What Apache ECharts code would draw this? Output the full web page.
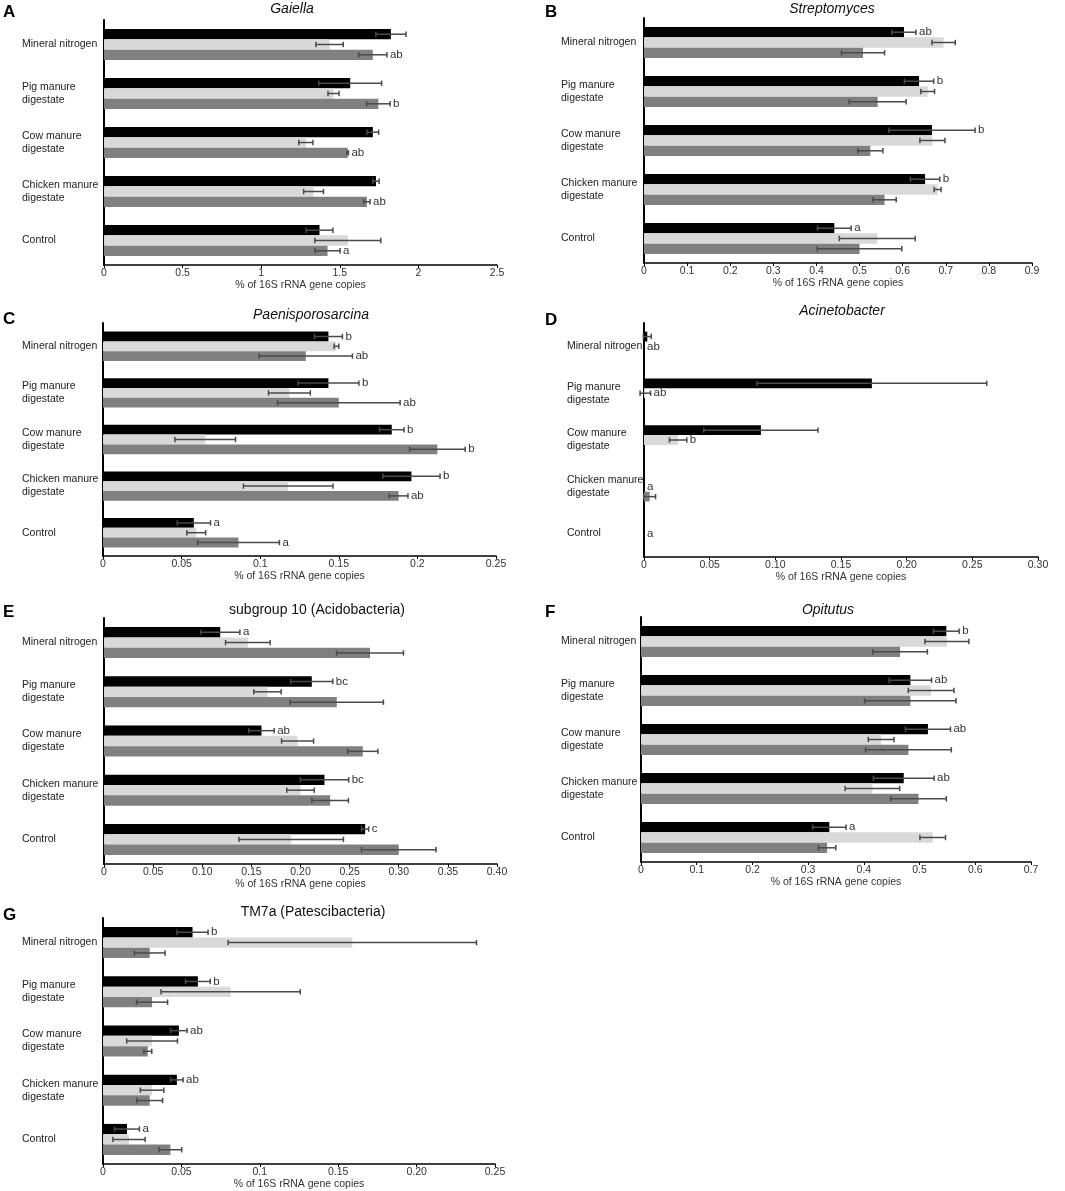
<!DOCTYPE html>
<html>
<head>
<meta charset="utf-8">
<title>Genus abundance by fertiliser</title>
<script src="https://cdn.jsdelivr.net/npm/echarts@6/dist/echarts.min.js"></script>
<style>
  html, body { margin: 0; padding: 0; background: #fff; }
  #chart { width: 1065px; height: 1191px; }
</style>
</head>
<body>
<div id="chart"></div>
<script>
var categories = ['Mineral nitrogen', 'Pig manure\ndigestate', 'Cow manure\ndigestate', 'Chicken manure\ndigestate', 'Control'];
var barColors = ['#000000', '#d9d9d9', '#808080'];
var axisTitle = '% of 16S rRNA gene copies';

// every panel: rows are black, light grey, dark grey bars; columns follow categories
// A - Gaiella
var gaiellaMean = [
    [1.825, 1.566, 1.71, 1.73, 1.371],
    [1.435, 1.46, 1.284, 1.333, 1.551],
    [1.71, 1.745, 1.55, 1.672, 1.422]
];
var gaiellaErr = [
    [0.096, 0.2, 0.037, 0.02, 0.085],
    [0.087, 0.035, 0.045, 0.063, 0.21],
    [0.09, 0.075, 0.005, 0.02, 0.08]
];
var gaiellaLetters = [null, null, ['ab', 'b', 'ab', 'ab', 'a']];
var gaiellaTicks = ['0', '0.5', '1', '1.5', '2', '2.5'];

// B - Streptomyces
var streptoMean = [
    [0.603, 0.638, 0.668, 0.652, 0.4415],
    [0.695, 0.658, 0.669, 0.681, 0.541],
    [0.508, 0.542, 0.525, 0.558, 0.5]
];
var streptoErr = [
    [0.028, 0.034, 0.1, 0.034, 0.039],
    [0.027, 0.016, 0.029, 0.008, 0.088],
    [0.05, 0.066, 0.029, 0.027, 0.098]
];
var streptoLetters = [['ab', 'b', 'b', 'b', 'a'], null, null];
var streptoTicks = ['0', '0.1', '0.2', '0.3', '0.4', '0.5', '0.6', '0.7', '0.8', '0.9'];

// C - Paenisporosarcina
var paeniMean = [
    [0.1434, 0.1434, 0.1837, 0.1962, 0.0578],
    [0.1485, 0.1186, 0.065, 0.1178, 0.0593],
    [0.129, 0.150, 0.2127, 0.188, 0.0862]
];
var paeniErr = [
    [0.0089, 0.0194, 0.0078, 0.0182, 0.0106],
    [0.0015, 0.0133, 0.0193, 0.0285, 0.006],
    [0.0297, 0.039, 0.0177, 0.006, 0.026]
];
var paeniLetters = [['b', 'b', 'b', 'b', 'a'], null, ['ab', 'ab', 'b', 'ab', 'a']];
var paeniTicks = ['0', '0.05', '0.1', '0.15', '0.2', '0.25'];

// D - Acinetobacter
var acinetoMean = [
    [0.0025, 0.1735, 0.089, 0, 0],
    [0, 0.001, 0.026, 0, 0],
    [0, 0, 0, 0.0043, 0]
];
var acinetoErr = [
    [0.003, 0.0875, 0.0435, 0, 0],
    [0, 0.004, 0.0066, 0, 0],
    [0, 0, 0, 0.0045, 0]
];
var acinetoLetters = [null, ['ab', 'ab', 'b', 'a', 'a'], null];
var acinetoTicks = ['0', '0.05', '0.10', '0.15', '0.20', '0.25', '0.30'];

// E - subgroup 10 (Acidobacteria)
var sub10Mean = [
    [0.1183, 0.2115, 0.1603, 0.2244, 0.2658],
    [0.1464, 0.1664, 0.197, 0.2, 0.1905],
    [0.2708, 0.2369, 0.2634, 0.2302, 0.300]
];
var sub10Err = [
    [0.02, 0.0214, 0.0129, 0.0246, 0.0036],
    [0.0227, 0.0139, 0.0163, 0.014, 0.0532],
    [0.034, 0.0475, 0.0154, 0.0186, 0.038]
];
var sub10Letters = [['a', 'bc', 'ab', 'bc', 'c'], null, null];
var sub10Ticks = ['0', '0.05', '0.10', '0.15', '0.20', '0.25', '0.30', '0.35', '0.40'];

// F - Opitutus
var opitutusMean = [
    [0.548, 0.4835, 0.515, 0.4716, 0.338],
    [0.549, 0.5207, 0.431, 0.4153, 0.5236],
    [0.465, 0.4835, 0.48, 0.498, 0.334]
];
var opitutusErr = [
    [0.023, 0.038, 0.0404, 0.0545, 0.03],
    [0.0395, 0.041, 0.023, 0.049, 0.023],
    [0.049, 0.082, 0.077, 0.05, 0.0156]
];
var opitutusLetters = [['b', 'ab', 'ab', 'ab', 'a'], null, null];
var opitutusTicks = ['0', '0.1', '0.2', '0.3', '0.4', '0.5', '0.6', '0.7'];

// G - TM7a (Patescibacteria)
var tm7aMean = [
    [0.0571, 0.0605, 0.0484, 0.0471, 0.0153],
    [0.159, 0.0814, 0.0313, 0.0313, 0.0166],
    [0.0298, 0.0313, 0.0286, 0.0298, 0.043]
];
var tm7aErr = [
    [0.0099, 0.0079, 0.0052, 0.004, 0.0079],
    [0.0792, 0.0444, 0.0162, 0.0075, 0.0103],
    [0.0098, 0.0099, 0.0025, 0.0082, 0.0072]
];
var tm7aLetters = [['b', 'b', 'ab', 'ab', 'a'], null, null];
var tm7aTicks = ['0', '0.05', '0.1', '0.15', '0.20', '0.25'];

var FONT = '"Liberation Sans", Arial, Helvetica, sans-serif';
var BAR_FRAC = 0.21;   // bar thickness as part of the category band

var panels = [
    {tag: 'A', title: 'Gaiella', italic: true, mean: gaiellaMean, err: gaiellaErr, letters: gaiellaLetters, ticks: gaiellaTicks, step: 0.5,
        left: 104, top: 20, width: 393, height: 245, margin: 82, titleX: 292, titleY: 9, tagX: 3, tagY: 12},
    {tag: 'B', title: 'Streptomyces', italic: true, mean: streptoMean, err: streptoErr, letters: streptoLetters, ticks: streptoTicks, step: 0.1,
        left: 644, top: 18, width: 388, height: 245, margin: 83, titleX: 832, titleY: 9, tagX: 545, tagY: 12},
    {tag: 'C', title: 'Paenisporosarcina', italic: true, mean: paeniMean, err: paeniErr, letters: paeniLetters, ticks: paeniTicks, step: 0.05,
        left: 103, top: 323, width: 393, height: 233, margin: 81, titleX: 311, titleY: 315, tagX: 3, tagY: 319},
    {tag: 'D', title: 'Acinetobacter', italic: true, mean: acinetoMean, err: acinetoErr, letters: acinetoLetters, ticks: acinetoTicks, step: 0.05,
        left: 644, top: 323, width: 394, height: 234, margin: 77, titleX: 842, titleY: 311, tagX: 545, tagY: 320},
    {tag: 'E', title: 'subgroup 10 (Acidobacteria)', italic: false, mean: sub10Mean, err: sub10Err, letters: sub10Letters, ticks: sub10Ticks, step: 0.05,
        left: 104, top: 618, width: 393, height: 246, margin: 82, titleX: 317, titleY: 610, tagX: 3, tagY: 612},
    {tag: 'F', title: 'Opitutus', italic: true, mean: opitutusMean, err: opitutusErr, letters: opitutusLetters, ticks: opitutusTicks, step: 0.1,
        left: 641, top: 617, width: 390, height: 245, margin: 80, titleX: 828, titleY: 610, tagX: 545, tagY: 612},
    {tag: 'G', title: 'TM7a (Patescibacteria)', italic: false, mean: tm7aMean, err: tm7aErr, letters: tm7aLetters, ticks: tm7aTicks, step: 0.05,
        left: 103, top: 918, width: 392, height: 246, margin: 81, titleX: 313, titleY: 912, tagX: 3, tagY: 915}
];

// error whiskers + significance letters drawn over bar series k of panel p
function errorSeries(p, pi, k) {
    return {
        type: 'custom',
        xAxisIndex: pi,
        yAxisIndex: pi,
        z: 5,
        silent: true,
        clip: false,
        data: p.mean[k].map(function (v, i) { return [v, i, p.err[k][i]]; }),
        encode: {x: 0, y: 1},
        renderItem: function (params, api) {
            var v = api.value(0), cat = api.value(1), e = api.value(2);
            var band = api.size([0, 1])[1];
            var y = api.coord([v, cat])[1] + (k - 1) * band * BAR_FRAC;
            var x0 = api.coord([0, cat])[0];
            var lo = api.coord([v - e, cat])[0];
            var hi = api.coord([v + e, cat])[0];
            var lineStyle = {stroke: '#4a4a4a', lineWidth: 1.5};
            var kids = [];
            if (e > 0) {
                kids.push({type: 'line', shape: {x1: lo, y1: y, x2: hi, y2: y}, style: lineStyle});
                kids.push({type: 'line', shape: {x1: lo, y1: y - 2.7, x2: lo, y2: y + 2.7}, style: lineStyle});
                kids.push({type: 'line', shape: {x1: hi, y1: y - 2.7, x2: hi, y2: y + 2.7}, style: lineStyle});
            }
            var letter = p.letters[k] ? p.letters[k][params.dataIndex] : null;
            if (letter) {
                kids.push({
                    type: 'text',
                    style: {
                        text: letter, x: Math.max(hi, x0) + 3, y: y,
                        textAlign: 'left', textVerticalAlign: 'middle', align: 'left', verticalAlign: 'middle',
                        fill: '#333', font: '11.5px ' + FONT
                    }
                });
            }
            return {type: 'group', children: kids};
        }
    };
}

var grids = [], xAxes = [], yAxes = [], series = [], graphics = [];

panels.forEach(function (p, pi) {
    grids.push({left: p.left, top: p.top, width: p.width, height: p.height, containLabel: false, outerBoundsMode: 'none'});
    xAxes.push({
        type: 'value',
        gridIndex: pi,
        min: 0,
        max: p.step * (p.ticks.length - 1),
        interval: p.step,
        name: axisTitle,
        nameLocation: 'middle',
        nameGap: 14,
        nameTextStyle: {color: '#333', fontSize: 10.5, fontFamily: FONT},
        axisLine: {show: true, onZero: false, lineStyle: {color: '#000', width: 1.6}},
        axisTick: {show: true, length: 3, lineStyle: {color: '#000', width: 1}},
        splitLine: {show: false},
        axisLabel: {
            color: '#333', fontSize: 10.5, fontFamily: FONT, margin: 3,
            showMinLabel: true, showMaxLabel: true, hideOverlap: false,
            formatter: (function (ticks, step) {
                return function (val) { return ticks[Math.round(val / step)]; };
            })(p.ticks, p.step)
        }
    });
    yAxes.push({
        type: 'category',
        gridIndex: pi,
        data: categories,
        inverse: true,
        axisLine: {show: true, lineStyle: {color: '#000', width: 2}},
        axisTick: {show: false},
        splitLine: {show: false},
        axisLabel: {
            align: 'left', margin: p.margin, color: '#222', fontSize: 10.5,
            fontFamily: FONT, lineHeight: 13, interval: 0
        }
    });
    for (var k = 0; k < 3; k++) {
        series.push({
            type: 'bar',
            xAxisIndex: pi,
            yAxisIndex: pi,
            data: p.mean[k],
            barWidth: (BAR_FRAC * 100) + '%',
            barGap: '0%',
            itemStyle: {color: barColors[k]},
            silent: true
        });
    }
    for (var j = 0; j < 3; j++) {
        series.push(errorSeries(p, pi, j));
    }
    graphics.push({
        type: 'text', x: p.titleX, y: p.titleY,
        style: {
            text: p.title, textAlign: 'center', textVerticalAlign: 'middle', align: 'center', verticalAlign: 'middle',
            fill: '#111', font: (p.italic ? 'italic ' : '') + '14px ' + FONT
        }
    });
    graphics.push({
        type: 'text', x: p.tagX, y: p.tagY,
        style: {
            text: p.tag, textAlign: 'left', textVerticalAlign: 'middle', align: 'left', verticalAlign: 'middle',
            fill: '#000', font: 'bold 17px ' + FONT
        }
    });
});

var myChart = echarts.init(document.getElementById('chart'), null, {renderer: 'canvas'});
myChart.setOption({
    animation: false,
    backgroundColor: '#fff',
    grid: grids,
    xAxis: xAxes,
    yAxis: yAxes,
    series: series,
    graphic: graphics
});
</script>
</body>
</html>
